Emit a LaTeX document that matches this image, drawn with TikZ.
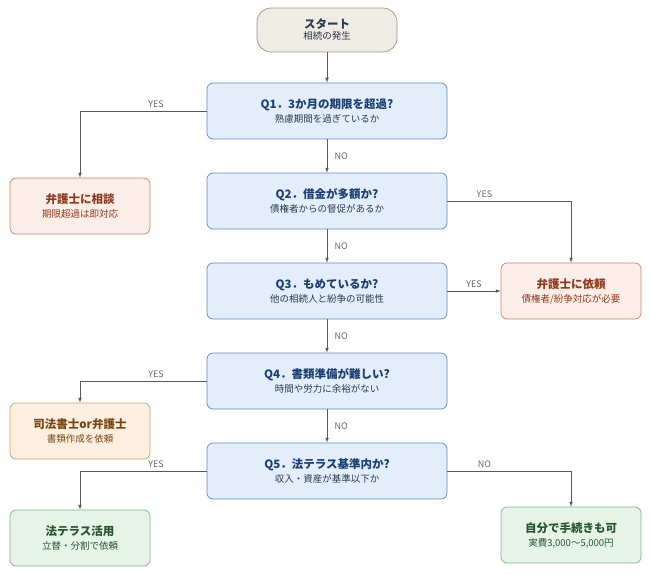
\documentclass[tikz,border=0pt]{standalone}
\usepackage{fontspec}
\setmainfont{Noto Sans CJK JP}
\definecolor{qf}{HTML}{E3EEFA}\definecolor{qd}{HTML}{5B8BC7}\definecolor{qt}{HTML}{1B3F73}\definecolor{qs}{HTML}{2A3A50}
\definecolor{rf}{HTML}{FBEDE7}\definecolor{rd}{HTML}{C9856A}\definecolor{rt}{HTML}{8E3A1E}
\definecolor{of}{HTML}{FCEFDF}\definecolor{od}{HTML}{D4A26A}\definecolor{ot}{HTML}{7A4512}
\definecolor{gf}{HTML}{E6F4E8}\definecolor{gd}{HTML}{7FB38A}\definecolor{gt}{HTML}{27552F}
\definecolor{sf}{HTML}{EFECE4}\definecolor{sd}{HTML}{9A968C}
\begin{document}
\begin{tikzpicture}[x=1pt,y=-1pt,
 box/.style={draw,rounded corners=6pt,minimum width=#1,minimum height=56pt,align=center,line width=0.7pt},
 q/.style={box=240pt,fill=qf,draw=qd},
 red/.style={box=140pt,fill=rf,draw=rd},
 org/.style={box=140pt,fill=of,draw=od},
 grn/.style={box=140pt,fill=gf,draw=gd},
 arr/.style={draw=black!65,line width=0.7pt,-latex},
 lab/.style={font=\fontsize{9}{11}\selectfont,text=black!60}]
\useasboundingbox (0,0) rectangle (650,575);
\node[box=140pt,minimum height=44pt,rounded corners=14pt,fill=sf,draw=sd] (st) at (327,30) {{\fontsize{11.5}{14}\selectfont\bfseries\color{qs}スタート}\\[-1pt]{\fontsize{9.5}{12}\selectfont\color{qs}相続の発生}};
\newcommand\qq[4]{\node[q] (#1) at (327,#2) {{\fontsize{11.5}{14}\selectfont\bfseries\color{qt}#3}\\[2pt]{\fontsize{9.5}{12}\selectfont\color{qs}#4}};}
\qq{q1}{111}{Q1．3か月の期限を超過?}{熟慮期間を過ぎているか}
\qq{q2}{201}{Q2．借金が多額か?}{債権者からの督促があるか}
\qq{q3}{291}{Q3．もめているか?}{他の相続人と紛争の可能性}
\qq{q4}{381}{Q4．書類準備が難しい?}{時間や労力に余裕がない}
\qq{q5}{471}{Q5．法テラス基準内か?}{収入・資産が基準以下か}
\newcommand\rr[6]{\node[#2] (#1) at (#3) {{\fontsize{11.5}{14}\selectfont\bfseries\color{#6}#4}\\[2pt]{\fontsize{9.5}{12}\selectfont\color{#6}#5}};}
\rr{a1}{red}{80,206}{弁護士に相談}{期限超過は即対応}{rt}
\rr{a2}{red}{571,291}{弁護士に依頼}{債権者/紛争対応が必要}{rt}
\rr{a3}{org}{80,431}{司法書士or弁護士}{書類作成を依頼}{ot}
\rr{a4}{grn}{80,538}{法テラス活用}{立替・分割で依頼}{gt}
\rr{a5}{grn}{571,535}{自分で手続きも可}{実費3,000〜5,000円}{gt}
\draw[arr] (st)--(q1);
\draw[arr] (q1)--node[lab,right=4pt]{NO}(q2);
\draw[arr] (q2)--node[lab,right=4pt]{NO}(q3);
\draw[arr] (q3)--node[lab,right=4pt]{NO}(q4);
\draw[arr] (q4)--node[lab,right=4pt]{NO}(q5);
\draw[arr] (q1.west)--node[lab,above,pos=0.4]{YES}(80,111)--(a1.north);
\draw[arr] (q2.east)--node[lab,above,pos=0.3]{YES}(571,201)--(a2.north);
\draw[arr] (q3.east)--node[lab,above]{YES}(a2.west);
\draw[arr] (q4.west)--node[lab,above,pos=0.4]{YES}(80,381)--(a3.north);
\draw[arr] (q5.west)--node[lab,above,pos=0.4]{YES}(80,471)--(a4.north);
\draw[arr] (q5.east)--node[lab,above,pos=0.3]{NO}(571,471)--(a5.north);
\end{tikzpicture}
\end{document}
